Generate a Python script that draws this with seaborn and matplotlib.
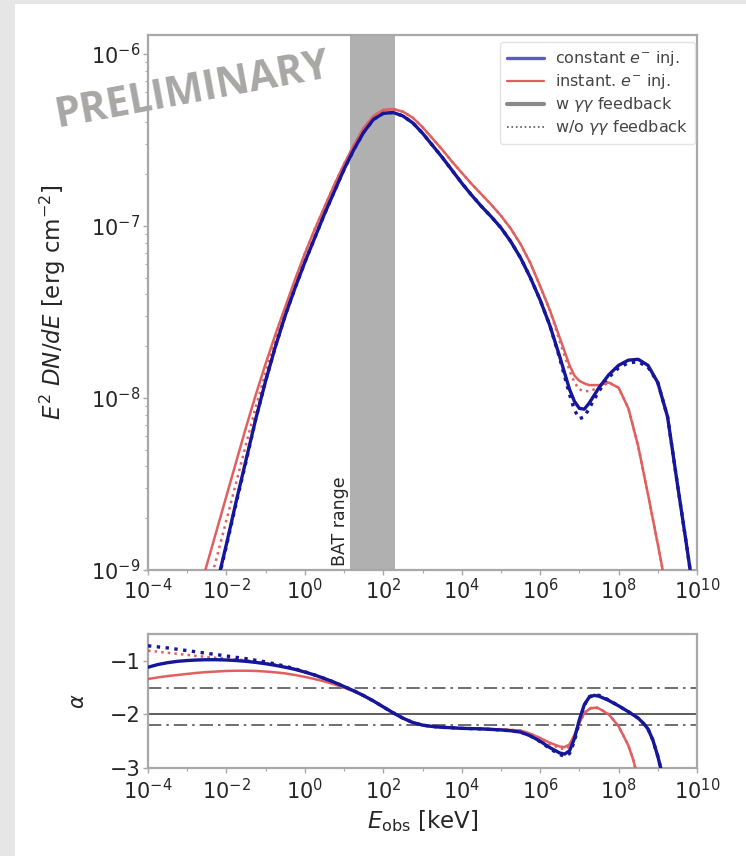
import numpy as np
import pandas as pd
import matplotlib
matplotlib.use("Agg")
import matplotlib.pyplot as plt
from matplotlib.lines import Line2D
from matplotlib.patches import Rectangle
from matplotlib.ticker import NullFormatter
import seaborn as sns

# ---------------- data ----------------
# Spectra: log10(E_obs / keV) and log10(E^2 dN/dE / erg cm^-2)
log_e_spec = [-3.0, -2.75, -2.5, -2.25, -2.0, -1.75, -1.5, -1.25, -1.0, -0.75,
              -0.5, -0.25, 0.0, 0.25, 0.5, 0.75, 1.0, 1.25, 1.5, 1.75,
              2.0, 2.25, 2.5, 2.75, 3.0, 3.25, 3.5, 3.75, 4.0, 4.25,
              4.5, 4.75, 5.0, 5.25, 5.5, 5.75, 6.0, 6.25, 6.5, 6.75,
              6.875, 7.0, 7.125, 7.25, 7.5, 7.75, 8.0, 8.25, 8.5, 8.75,
              9.0, 9.25, 9.5, 9.75, 10.0]

log_flux_const_fb = [-9.80, -9.57, -9.33, -9.09, -8.85, -8.60, -8.36, -8.12, -7.90, -7.70,
                     -7.52, -7.36, -7.21, -7.07, -6.93, -6.80, -6.67, -6.555, -6.455, -6.38,
                     -6.345, -6.34, -6.36, -6.40, -6.46, -6.53, -6.60, -6.675, -6.75, -6.82,
                     -6.885, -6.945, -7.01, -7.09, -7.185, -7.30, -7.43, -7.58, -7.76, -7.95,
                     -8.02, -8.06, -8.065, -8.03, -7.94, -7.865, -7.81, -7.78, -7.775, -7.81,
                     -7.91, -8.11, -8.50, -8.88, -9.28]
log_flux_const_nofb = [-9.84, -9.60, -9.35, -9.10, -8.86, -8.61, -8.37, -8.12, -7.90, -7.70,
                       -7.52, -7.36, -7.21, -7.07, -6.93, -6.80, -6.67, -6.555, -6.455, -6.38,
                       -6.345, -6.34, -6.36, -6.40, -6.46, -6.53, -6.60, -6.675, -6.75, -6.82,
                       -6.885, -6.945, -7.01, -7.09, -7.185, -7.30, -7.43, -7.58, -7.77, -7.98,
                       -8.07, -8.12, -8.11, -8.06, -7.96, -7.88, -7.825, -7.795, -7.79, -7.82,
                       -7.91, -8.11, -8.50, -8.88, -9.28]
log_flux_inst_fb = [-9.37, -9.17, -8.97, -8.77, -8.57, -8.37, -8.17, -7.98, -7.80, -7.63,
                    -7.47, -7.31, -7.16, -7.02, -6.89, -6.76, -6.64, -6.53, -6.43, -6.36,
                    -6.325, -6.32, -6.335, -6.37, -6.425, -6.49, -6.555, -6.625, -6.69, -6.755,
                    -6.815, -6.875, -6.94, -7.015, -7.105, -7.215, -7.35, -7.49, -7.65, -7.81,
                    -7.87, -7.90, -7.915, -7.925, -7.925, -7.91, -7.94, -8.06, -8.28, -8.56,
                    -8.85, -9.15, -9.50, -9.90, -10.30]
log_flux_inst_nofb = [-9.58, -9.36, -9.14, -8.93, -8.71, -8.49, -8.27, -8.05, -7.85, -7.66,
                      -7.49, -7.32, -7.16, -7.02, -6.89, -6.76, -6.64, -6.53, -6.43, -6.36,
                      -6.325, -6.32, -6.335, -6.37, -6.425, -6.49, -6.555, -6.625, -6.69, -6.755,
                      -6.815, -6.875, -6.94, -7.015, -7.105, -7.215, -7.35, -7.49, -7.67, -7.84,
                      -7.91, -7.95, -7.96, -7.96, -7.94, -7.91, -7.94, -8.06, -8.28, -8.56,
                      -8.85, -9.15, -9.50, -9.90, -10.30]

# Local spectral index alpha
log_e_idx = [-4.0, -3.75, -3.5, -3.25, -3.0, -2.75, -2.5, -2.25, -2.0, -1.75,
             -1.5, -1.25, -1.0, -0.75, -0.5, -0.25, 0.0, 0.25, 0.5, 0.75,
             1.0, 1.25, 1.5, 1.75, 2.0, 2.25, 2.5, 2.75, 3.0, 3.25,
             3.5, 3.75, 4.0, 4.25, 4.5, 4.75, 5.0, 5.25, 5.5, 5.75,
             6.0, 6.25, 6.5, 6.625, 6.75, 6.875, 7.0, 7.125, 7.25, 7.375,
             7.5, 7.75, 8.0, 8.25, 8.375, 8.5, 8.625, 8.75, 8.875, 9.0,
             9.125]

alpha_const_fb = [-1.12, -1.07, -1.035, -1.01, -0.995, -0.985, -0.98, -0.98, -0.985, -0.995,
                  -1.01, -1.03, -1.055, -1.085, -1.12, -1.16, -1.21, -1.265, -1.33, -1.40,
                  -1.48, -1.56, -1.65, -1.75, -1.86, -1.97, -2.07, -2.15, -2.20, -2.225,
                  -2.24, -2.25, -2.26, -2.265, -2.27, -2.28, -2.29, -2.305, -2.33, -2.40,
                  -2.50, -2.62, -2.72, -2.74, -2.68, -2.45, -2.10, -1.82, -1.68, -1.645,
                  -1.66, -1.74, -1.84, -1.95, -2.01, -2.07, -2.16, -2.27, -2.48, -2.78,
                  -3.15]
alpha_const_nofb = [-0.72, -0.74, -0.76, -0.785, -0.81, -0.835, -0.86, -0.885, -0.91, -0.935,
                    -0.96, -0.99, -1.02, -1.06, -1.10, -1.15, -1.205, -1.265, -1.33, -1.40,
                    -1.48, -1.56, -1.65, -1.75, -1.86, -1.97, -2.07, -2.15, -2.20, -2.225,
                    -2.24, -2.25, -2.26, -2.265, -2.27, -2.28, -2.29, -2.305, -2.33, -2.40,
                    -2.51, -2.64, -2.75, -2.78, -2.73, -2.50, -2.14, -1.83, -1.67, -1.63,
                    -1.645, -1.73, -1.84, -1.95, -2.01, -2.07, -2.16, -2.27, -2.48, -2.78,
                    -3.15]
alpha_inst_fb = [-1.34, -1.31, -1.285, -1.265, -1.245, -1.225, -1.21, -1.20, -1.19, -1.185,
                 -1.185, -1.19, -1.20, -1.215, -1.235, -1.265, -1.30, -1.34, -1.385, -1.44,
                 -1.50, -1.57, -1.655, -1.75, -1.86, -1.97, -2.07, -2.15, -2.20, -2.225,
                 -2.24, -2.25, -2.26, -2.265, -2.27, -2.275, -2.28, -2.29, -2.30, -2.36,
                 -2.44, -2.53, -2.60, -2.61, -2.56, -2.38, -2.15, -1.98, -1.90, -1.875,
                 -1.89, -2.00, -2.22, -2.58, -2.85, -3.20, -3.60, -4.00, -4.40, -4.80,
                 -5.20]
alpha_inst_nofb = [-0.81, -0.83, -0.85, -0.87, -0.89, -0.91, -0.93, -0.945, -0.96, -0.975,
                   -0.99, -1.01, -1.04, -1.07, -1.11, -1.155, -1.21, -1.27, -1.34, -1.42,
                   -1.50, -1.57, -1.655, -1.75, -1.86, -1.97, -2.07, -2.15, -2.20, -2.225,
                   -2.24, -2.25, -2.26, -2.265, -2.27, -2.275, -2.28, -2.29, -2.30, -2.36,
                   -2.45, -2.55, -2.63, -2.65, -2.60, -2.41, -2.17, -1.98, -1.89, -1.86,
                   -1.88, -2.00, -2.22, -2.58, -2.85, -3.20, -3.60, -4.00, -4.40, -4.80,
                   -5.20]

bat_range_kev = [14.0, 195.0]
reference_alphas = [-1.5, -2.2]

x_tick_exponents = [-4, -2, 0, 2, 4, 6, 8, 10]
y_tick_exponents = [-9, -8, -7, -6]
alpha_ticks = [-1, -2, -3]

# ---------------- style ----------------
sns.set_theme(style="ticks")
plt.rcParams["font.family"] = ["DejaVu Sans"]
plt.rcParams["mathtext.fontset"] = "dejavusans"

BLUE = "#16169a"
RED = "#e06060"
SPINE = "#a8a8a8"
TXT = "#262626"

fig = plt.figure(figsize=(7.46, 8.56), dpi=100)
fig.patch.set_facecolor("#e6e6e6")
fig.add_artist(Rectangle((15 / 746, 0), 1 - 15 / 746, 1 - 4 / 856,
                         transform=fig.transFigure, facecolor="white",
                         edgecolor="none", zorder=-10))

ax = fig.add_axes([148 / 746, 1 - 570 / 856, (697 - 148) / 746, (570 - 35) / 856])
axr = fig.add_axes([148 / 746, 1 - 768 / 856, (697 - 148) / 746, (768 - 634) / 856])

spec = pd.DataFrame({"E": np.power(10.0, log_e_spec)})
for name, vals in [("const_fb", log_flux_const_fb), ("const_nofb", log_flux_const_nofb),
                   ("inst_fb", log_flux_inst_fb), ("inst_nofb", log_flux_inst_nofb)]:
    spec[name] = np.power(10.0, vals)

idx = pd.DataFrame({"E": np.power(10.0, log_e_idx),
                    "const_fb": alpha_const_fb, "const_nofb": alpha_const_nofb,
                    "inst_fb": alpha_inst_fb, "inst_nofb": alpha_inst_nofb})

series_styles = [("inst_nofb", RED, ":", 1.8),
                 ("const_nofb", BLUE, ":", 2.4),
                 ("inst_fb", RED, "-", 1.8),
                 ("const_fb", BLUE, "-", 2.4)]

# ---------------- spectrum panel ----------------
ax.set_xscale("log")
ax.set_yscale("log")
ax.axvspan(bat_range_kev[0], bat_range_kev[1], color="#b0b0b0", zorder=0.5, lw=0)
for col, c, ls, lw in series_styles:
    sns.lineplot(data=spec, x="E", y=col, ax=ax, color=c, linestyle=ls, lw=lw,
                 sort=False, estimator=None, zorder=3)
ax.set_xlim(1e-4, 1e10)
ax.set_ylim(1e-9, 1.29e-6)
ax.set_xticks([10.0 ** k for k in x_tick_exponents])
ax.set_xticks([10.0 ** k for k in range(-3, 10, 2)], minor=True)
ax.set_xticklabels([f"$10^{{{k}}}$" for k in x_tick_exponents])
ax.set_yticks([10.0 ** k for k in y_tick_exponents])
ax.set_yticklabels([f"$10^{{{k}}}$" for k in y_tick_exponents])
ax.xaxis.set_minor_formatter(NullFormatter())
ax.yaxis.set_minor_formatter(NullFormatter())
ax.set_xlabel("")
ax.set_ylabel(r"$E^2\ DN/dE$ [erg cm$^{-2}$]", fontsize=16.5, color=TXT)
ax.yaxis.set_label_coords(-0.146, 0.5)
ax.text(8.0, 1.06e-9, "BAT range", rotation=90, ha="center", va="bottom",
        fontsize=12.5, color=TXT)

handles = [Line2D([], [], color="#5a5ac8", lw=2.4),
           Line2D([], [], color=RED, lw=1.6),
           Line2D([], [], color="#8a8a8a", lw=3.0),
           Line2D([], [], color="#555555", lw=1.2, ls=":")]
labels = [r"constant $e^{-}$ inj.", r"instant. $e^{-}$ inj.",
          r"w $\gamma\gamma$ feedback", r"w/o $\gamma\gamma$ feedback"]
leg = ax.legend(handles, labels, loc="upper right", fontsize=11.5, frameon=True,
                handlelength=2.3, handletextpad=0.7, borderpad=0.45, labelspacing=0.25,
                borderaxespad=0.0, bbox_to_anchor=(1 - 2 / 549, 1 - 7 / 535))
leg.get_frame().set_edgecolor("#dddddd")
for t in leg.get_texts():
    t.set_color("#444444")

# ---------------- index panel ----------------
axr.set_xscale("log")
axr.axhline(-2.0, color="#333333", lw=1.1, zorder=1)
for a in reference_alphas:
    axr.axhline(a, color="#555555", lw=1.2, ls=(0, (8, 3, 1.5, 3)), zorder=1)
for col, c, ls, lw in series_styles:
    sns.lineplot(data=idx, x="E", y=col, ax=axr, color=c, linestyle=ls, lw=lw,
                 sort=False, estimator=None, zorder=3)
axr.set_xlim(1e-4, 1e10)
axr.set_ylim(-3.0, -0.5)
axr.set_xticks([10.0 ** k for k in x_tick_exponents])
axr.set_xticks([10.0 ** k for k in range(-3, 10, 2)], minor=True)
axr.set_xticklabels([f"$10^{{{k}}}$" for k in x_tick_exponents])
axr.xaxis.set_minor_formatter(NullFormatter())
axr.set_yticks(alpha_ticks)
axr.set_yticklabels(["\u22121", "\u22122", "\u22123"])
axr.set_xlabel(r"$E_{\rm obs}$ [keV]", fontsize=16.5, color=TXT)
axr.set_ylabel(r"$\alpha$", fontsize=15, color=TXT)
axr.yaxis.set_label_coords(-0.109, 0.5)

for a in (ax, axr):
    for s in a.spines.values():
        s.set_color(SPINE)
        s.set_linewidth(1.6)
    a.tick_params(axis="both", which="major", labelsize=15, colors=SPINE,
                  labelcolor=TXT, length=3.5, width=1, pad=2)
    a.tick_params(axis="both", which="minor", colors=SPINE, length=2, width=0.8)
    a.set_facecolor("white")
axr.tick_params(axis="x", which="major", pad=3.5)

# Watermark
fig.text(192 / 746, 1 - 91 / 856, "PRELIMINARY", rotation=10.5, ha="center", va="center",
         fontsize=29.5, fontweight="bold", color="#a9a6a6", family=["Open Sans", "DejaVu Sans"],
         zorder=20)

fig.savefig("out.png", dpi=100, facecolor=fig.get_facecolor())
